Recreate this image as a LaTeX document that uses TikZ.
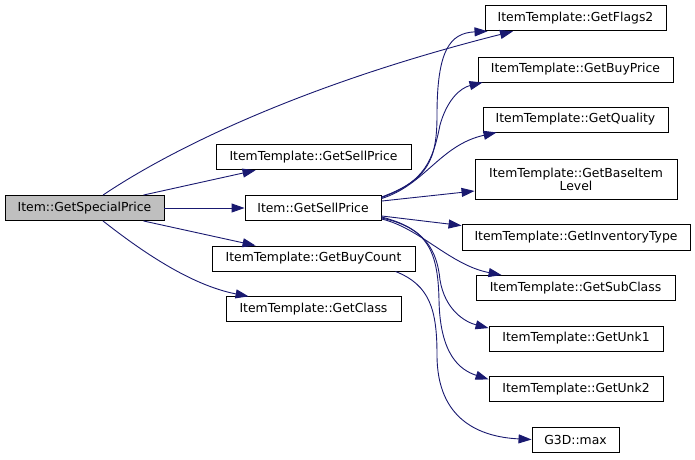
\documentclass[tikz,border=0pt]{standalone}
\usepackage{fontspec}
\setmainfont{DejaVu Sans}
\usetikzlibrary{arrows.meta}
\definecolor{edgeblue}{HTML}{191970}
\definecolor{boxgray}{HTML}{BFBFBF}
\begin{document}
\begin{tikzpicture}[x=1pt,y=-1pt,
  fn/.style={draw=black, line width=0.9pt, fill=white, inner sep=0pt,
    font=\fontsize{12.4}{14}\selectfont, align=center, minimum height=25pt},
  edge/.style={draw=edgeblue, line width=0.9pt, -{Triangle[length=13pt,width=9pt]}}]
\useasboundingbox (0,0) rectangle (695,459);
% nodes
\node[fn, fill=boxgray, minimum width=159pt] (sp) at (84.5,208) {Item::GetSpecialPrice};
\node[fn, minimum width=195pt] (tsp) at (313.5,157.3) {ItemTemplate::GetSellPrice};
\node[fn, minimum width=136pt] (isp) at (313,208) {Item::GetSellPrice};
\node[fn, minimum width=203pt] (tbc) at (313.5,258.5) {ItemTemplate::GetBuyCount};
\node[fn, minimum width=175pt] (tcl) at (313.5,309.3) {ItemTemplate::GetClass};
\node[fn, minimum width=181pt] (fl) at (575.5,18.3) {ItemTemplate::GetFlags2};
\node[fn, minimum width=195pt] (bp) at (575.5,69.5) {ItemTemplate::GetBuyPrice};
\node[fn, minimum width=185pt] (q) at (575.5,119.5) {ItemTemplate::GetQuality};
\node[fn, minimum width=202pt, minimum height=40pt] (bil) at (576,179) {ItemTemplate::GetBaseItem\\[-1pt]Level};
\node[fn, minimum width=228pt, minimum height=26pt] (inv) at (576,237) {ItemTemplate::GetInventoryType};
\node[fn, minimum width=199pt] (sub) at (575.5,288) {ItemTemplate::GetSubClass};
\node[fn, minimum width=174pt] (u1) at (576,338.5) {ItemTemplate::GetUnk1};
\node[fn, minimum width=174pt] (u2) at (576,389.3) {ItemTemplate::GetUnk2};
\node[fn, minimum width=87pt] (mx) at (575.5,439.5) {G3D::max};
% edges from Item::GetSpecialPrice
\draw[edge] ([xshift=18.5pt]sp.north) .. controls (170,150) and (300,85) .. ([xshift=-62.5pt]fl.south);
\draw[edge] ([xshift=-21pt]sp.north east) -- ([xshift=40pt]tsp.south west);
\draw[edge] (sp.east) -- (isp.west);
\draw[edge] ([xshift=-21pt]sp.south east) -- ([xshift=44pt]tbc.north west);
\draw[edge] ([xshift=18.5pt]sp.south) .. controls (140,250) and (190,285) .. ([xshift=23pt]tcl.north west);
% edges from Item::GetSellPrice
\draw[edge] ([yshift=-2pt]isp.north east) .. controls (428,180) and (437,160) .. (437,115)
  .. controls (437,50) and (450,33) .. ([xshift=3pt]fl.south west);
\draw[edge] ([yshift=-2.5pt]isp.north east) .. controls (425,182) and (433,160) .. (440,125)
  .. controls (447,100) and (460,88) .. ([xshift=5pt]bp.south west);
\draw[edge] ([yshift=-3.5pt]isp.north east) .. controls (425,185) and (440,145) .. ([xshift=14pt]q.south west);
\draw[edge] ([yshift=-6pt]isp.north east) -- ([yshift=-12pt]bil.west);
\draw[edge] ([yshift=5pt]isp.south east) -- ([yshift=-2pt]inv.north west);
\draw[edge] ([yshift=2pt]isp.south east) .. controls (420,228) and (450,265) .. ([xshift=26pt]sub.north west);
\draw[edge] ([yshift=4pt]isp.south east) .. controls (425,228) and (437,250) .. (440,280)
  .. controls (445,310) and (465,322) .. ([yshift=-2.5pt]u1.north west);
\draw[edge] ([yshift=3pt]isp.south east) .. controls (427,228) and (438,250) .. (439,300)
  .. controls (440,355) and (460,370) .. ([yshift=-3pt]u2.north west);
% edge from ItemTemplate::GetBuyCount
\draw[edge] ([xshift=-20pt]tbc.south east) .. controls (430,285) and (437,310) .. (437,355)
  .. controls (437,420) and (480,437) .. (mx.west);
\end{tikzpicture}
\end{document}
